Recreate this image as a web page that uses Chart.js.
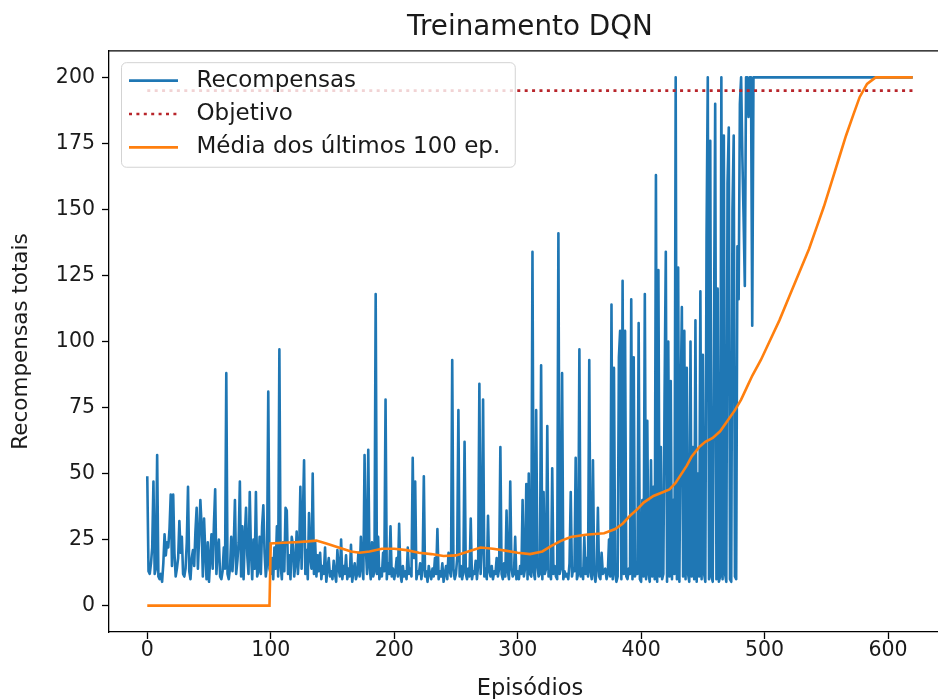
<!DOCTYPE html>
<html>
<head>
<meta charset="utf-8">
<title>Treinamento DQN</title>
<script src="https://cdn.jsdelivr.net/npm/chart.js@4.4.1/dist/chart.umd.min.js"></script>
<style>
  html, body { margin: 0; padding: 0; background: #fff; overflow: hidden; }
  #wrap { width: 938px; height: 699px; overflow: hidden; }
</style>
</head>
<body>
<div id="wrap"><canvas id="chart" width="960" height="699"></canvas></div>
<script>
// recompensa total por episodio (0..620)
const rewards = [
  49, 13, 12, 16, 22, 47, 12, 14, 57, 11,
  10, 12, 9, 16, 27, 19, 24, 22, 29, 42,
  15, 42, 20, 11, 14, 18, 32, 20, 26, 12,
  11, 14, 24, 45, 13, 10, 18, 21, 15, 28,
  37, 14, 26, 40, 30, 11, 33, 20, 10, 24,
  9, 18, 27, 14, 31, 44, 12, 21, 25, 11,
  10, 13, 22, 14, 88, 12, 10, 14, 26, 13,
  22, 40, 12, 17, 24, 47, 11, 30, 10, 26,
  37, 19, 12, 43, 20, 10, 25, 14, 43, 11,
  13, 26, 12, 30, 38, 20, 11, 16, 81, 14,
  // 100
  12, 18, 10, 22, 14, 30, 11, 97, 15, 10,
  24, 13, 37, 36, 12, 19, 10, 26, 23, 11,
  16, 28, 12, 20, 45, 14, 33, 55, 12, 21,
  10, 35, 18, 14, 50, 12, 24, 11, 19, 13,
  20, 10, 15, 12, 22, 9, 14, 18, 11, 13,
  10, 17, 12, 9, 21, 14, 11, 25, 10, 15,
  12, 19, 10, 14, 11, 23, 9, 13, 16, 10,
  12, 20, 11, 26, 14, 10, 57, 22, 12, 59,
  15, 10, 24, 11, 13, 118, 12, 26, 10, 14,
  11, 20, 13, 78, 10, 16, 12, 30, 11, 14,
  // 200
  10, 13, 18, 11, 31, 12, 9, 15, 11, 13,
  10, 22, 12, 14, 11, 56, 18, 47, 10, 13,
  12, 16, 10, 14, 49, 11, 13, 9, 15, 12,
  10, 14, 11, 18, 12, 29, 10, 13, 11, 16,
  9, 12, 15, 10, 20, 13, 11, 93, 14, 10,
  12, 18, 74, 11, 15, 10, 13, 62, 12, 10,
  14, 11, 33, 10, 13, 12, 17, 10, 15, 84,
  12, 22, 78, 11, 14, 10, 34, 13, 11, 15,
  10, 13, 12, 18, 11, 14, 60, 12, 10, 16,
  11, 36, 13, 10, 47, 14, 11, 12, 26, 10,
  // 300
  13, 10, 15, 12, 40, 11, 14, 46, 10, 50,
  12, 11, 134, 13, 10, 74, 15, 11, 12, 91,
  10, 43, 12, 14, 68, 11, 13, 10, 52, 12,
  15, 11, 10, 141, 12, 14, 88, 10, 13, 11,
  12, 10, 16, 43, 11, 14, 13, 56, 10, 12,
  97, 11, 14, 10, 26, 12, 18, 11, 93, 13,
  10, 55, 12, 9, 14, 37, 11, 10, 20, 12,
  13, 14, 10, 12, 25, 11, 114, 10, 90, 12,
  9, 11, 94, 104, 10, 123, 12, 104, 11, 10,
  14, 12, 116, 10, 94, 11, 13, 12, 107, 10,
  // 400
  9, 40, 11, 118, 10, 70, 12, 9, 55, 11,
  45, 10, 163, 9, 127, 11, 60, 10, 12, 80,
  134, 9, 100, 11, 85, 10, 40, 12, 200, 10,
  128, 9, 75, 113, 11, 104, 10, 90, 12, 9,
  100, 11, 60, 10, 108, 9, 50, 11, 119, 10,
  95, 12, 9, 140, 200, 10, 176, 11, 9, 100,
  190, 10, 120, 9, 11, 200, 10, 178, 12, 9,
  160, 181, 10, 9, 150, 178, 11, 10, 136, 116,
  190, 200, 170, 147, 121, 200, 200, 185, 200, 200,
  106, 200, 200, 200, 200, 200, 200, 200, 200, 200,
  // 500
  200, 200, 200, 200, 200, 200, 200, 200, 200, 200,
  200, 200, 200, 200, 200, 200, 200, 200, 200, 200,
  200, 200, 200, 200, 200, 200, 200, 200, 200, 200,
  200, 200, 200, 200, 200, 200, 200, 200, 200, 200,
  200, 200, 200, 200, 200, 200, 200, 200, 200, 200,
  200, 200, 200, 200, 200, 200, 200, 200, 200, 200,
  200, 200, 200, 200, 200, 200, 200, 200, 200, 200,
  200, 200, 200, 200, 200, 200, 200, 200, 200, 200,
  200, 200, 200, 200, 200, 200, 200, 200, 200, 200,
  200, 200, 200, 200, 200, 200, 200, 200, 200, 200,
  // 600
  200, 200, 200, 200, 200, 200, 200, 200, 200, 200,
  200, 200, 200, 200, 200, 200, 200, 200, 200, 200,
  200
];

const maEpisodes = [0, 99, 100, 110, 120, 130, 137, 145, 155, 165,
  172, 180, 190, 200, 210, 220, 230, 240, 250, 260,
  270, 280, 290, 300, 310, 320, 327, 335, 343, 355,
  370, 379, 385, 391, 397, 402, 410, 418, 423, 428,
  432, 437, 441, 447, 452, 458, 464, 470, 476, 481,
  486, 490, 497, 504, 512, 520, 528, 536, 542, 548,
  554, 560, 566, 572, 577, 583, 590, 620];
const maValues = [0, 0, 23.5, 23.8, 24, 24.3, 24.6, 23.5, 22, 20.5,
  20, 20.5, 21.5, 21.5, 21, 20, 19.5, 18.8, 19, 20.5,
  22, 21.5, 20.8, 20, 19.5, 20.5, 22.5, 24.5, 26, 26.8,
  27.4, 29, 31, 34, 36.5, 39, 41.5, 43, 44, 46.5,
  49.4, 53, 56.5, 60, 62, 63.5, 66, 70, 74, 78,
  83, 87, 93, 100, 108, 117, 126, 135, 143, 151,
  160, 169, 178, 186, 192.5, 197.5, 200, 200];

const goal = 195;
const goalSpan = [0, 620];

const xTicks = [0, 100, 200, 300, 400, 500, 600];
const yTicks = [0, 25, 50, 75, 100, 125, 150, 175, 200];

const seriesNames = ["Recompensas", "Objetivo", "Média dos últimos 100 ep."];

const BLUE = "#1f77b4";
const ORANGE = "#ff7f0e";
const RED = "#b8252b";
const FONT = "DejaVu Sans";
const INK = "#1a1a1a";
const GOAL_DASH = [3, 4.4];

// top spine + legend box drawn inside the axes
const frameAndLegend = {
  id: "frameAndLegend",
  beforeDraw(chart) {
    const ctx = chart.ctx;
    ctx.save();
    ctx.fillStyle = "#fff";
    ctx.fillRect(0, 0, chart.width, chart.height);
    ctx.restore();
  },
  afterDatasetsDraw(chart) {
    const ctx = chart.ctx;
    const a = chart.chartArea;
    ctx.save();
    ctx.strokeStyle = "#000";
    ctx.lineWidth = 1.3;
    ctx.beginPath();
    ctx.moveTo(a.left, a.top);
    ctx.lineTo(a.right, a.top);
    ctx.stroke();

    const colors = [BLUE, RED, ORANGE];
    const dashes = [[], GOAL_DASH, []];
    ctx.font = "23px '" + FONT + "'";
    let maxW = 0;
    seriesNames.forEach((s) => { maxW = Math.max(maxW, ctx.measureText(s).width); });
    const bx = a.left + 12.5;
    const by = a.top + 11.7;
    const textX = bx + 75;
    const bw = textX - bx + maxW + 15;
    const bh = 104.6;
    ctx.beginPath();
    ctx.roundRect(bx, by, bw, bh, 5);
    ctx.fillStyle = "rgba(255,255,255,0.8)";
    ctx.fill();
    ctx.strokeStyle = "#d3d3d3";
    ctx.lineWidth = 1;
    ctx.stroke();

    seriesNames.forEach((name, i) => {
      const y = by + 18 + i * 33.4;
      ctx.beginPath();
      ctx.setLineDash(dashes[i]);
      ctx.strokeStyle = colors[i];
      ctx.lineWidth = i === 1 ? 2.6 : 2.7;
      ctx.moveTo(bx + 7.5, y);
      ctx.lineTo(bx + 56.5, y);
      ctx.stroke();
      ctx.setLineDash([]);
      ctx.fillStyle = INK;
      ctx.textBaseline = "middle";
      ctx.textAlign = "left";
      ctx.fillText(name, textX, y);
    });
    ctx.restore();
  }
};

const axisCommon = {
  border: { display: true, color: "#000", width: 1.3 },
  grid: { display: true, drawOnChartArea: false, drawTicks: true, tickLength: 7, tickColor: "#000", tickWidth: 1.3 },
};

new Chart(document.getElementById("chart"), {
  type: "line",
  data: {
    datasets: [
      {
        label: seriesNames[2],
        data: maEpisodes.map((e, i) => ({ x: e, y: maValues[i] })),
        borderColor: ORANGE,
        borderWidth: 2.6,
        pointRadius: 0,
        tension: 0,
        order: 0,
      },
      {
        label: seriesNames[1],
        data: goalSpan.map((e) => ({ x: e, y: goal })),
        borderColor: RED,
        borderWidth: 2.6,
        borderDash: GOAL_DASH,
        pointRadius: 0,
        order: 1,
      },
      {
        label: seriesNames[0],
        data: rewards.map((v, i) => ({ x: i, y: v })),
        borderColor: BLUE,
        borderWidth: 2.6,
        borderJoinStyle: "round",
        pointRadius: 0,
        tension: 0,
        order: 2,
      },
    ],
  },
  options: {
    responsive: false,
    animation: false,
    layout: { padding: { left: 0, right: 9, top: 0, bottom: 0 } },
    plugins: {
      legend: { display: false },
      tooltip: { enabled: false },
      title: {
        display: true,
        text: "Treinamento DQN",
        fullSize: false,
        color: INK,
        font: { family: FONT, size: 27.8, weight: "normal", lineHeight: 1.2 },
        padding: { top: 11.3, bottom: 6.3 },
      },
    },
    scales: {
      x: {
        ...axisCommon,
        type: "linear",
        min: -31,
        max: 651,
        afterBuildTicks: (s) => { s.ticks = xTicks.map((v) => ({ value: v })); },
        afterFit: (s) => { s.height = 67; },
        ticks: { color: INK, padding: 1, font: { family: FONT, size: 20.5, lineHeight: 1 }, maxRotation: 0 },
        title: {
          display: true,
          text: "Episódios",
          color: INK,
          font: { family: FONT, size: 22.5, lineHeight: 1 },
          padding: { top: 0, bottom: -1 },
        },
      },
      y: {
        ...axisCommon,
        type: "linear",
        min: -10,
        max: 210,
        afterBuildTicks: (s) => { s.ticks = yTicks.map((v) => ({ value: v })); },
        afterFit: (s) => { s.width = 109; },
        ticks: { color: INK, padding: 7, font: { family: FONT, size: 20.5, lineHeight: 1 } },
        title: {
          display: true,
          text: "Recompensas totais",
          color: INK,
          font: { family: FONT, size: 21.5, lineHeight: 1 },
          padding: { top: 11, bottom: 0 },
        },
      },
    },
  },
  plugins: [frameAndLegend],
});
</script>
</body>
</html>
